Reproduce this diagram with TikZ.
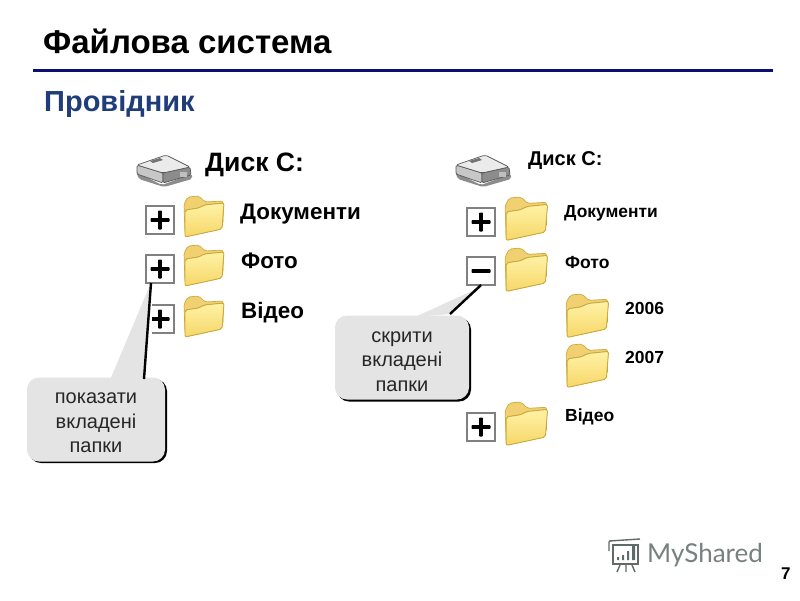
\documentclass[tikz,border=0pt]{standalone}
\usepackage{fontspec}
\setmainfont{Liberation Sans}
\newfontfamily\logofont{Lato}
\definecolor{navy}{HTML}{0B0F70}
\definecolor{subt}{HTML}{1F3D7A}
\definecolor{callout}{HTML}{E4E4E4}
\definecolor{fback}{HTML}{F0D070}
\definecolor{ffronta}{HTML}{FFF2A6}
\definecolor{ffrontb}{HTML}{F6D768}
\definecolor{fedge}{HTML}{CDAA3C}
\definecolor{logogray}{HTML}{5F6B68}
\usetikzlibrary{calc}
\tikzset{
  x=1pt,y=-1pt,
  lbl/.style={anchor=west,inner sep=0pt,font=\bfseries,text=black},
  big/.style={lbl,font=\bfseries\fontsize{22.4}{26}\selectfont},
  small/.style={lbl,font=\bfseries\fontsize{17.5}{20}\selectfont},
  toggle/.style={draw=black!50,line width=2.8pt,fill=white,minimum width=28pt,minimum height=28pt,inner sep=0pt,outer sep=0pt},
  bubble/.style={fill=callout,rounded corners=12pt,inner sep=0pt},
  bubbletext/.style={align=center,inner sep=0pt,font=\fontsize{20}{24.3}\selectfont,text=black!85},
  tail/.style={line width=2.4pt,black},
  pics/folder/.style={code={
    \begin{scope}[scale=#1]
    \fill[fback,draw=fedge,line width=.7pt,rounded corners=2pt] (3,38) -- (2,8) -- (6,1) -- (17,0) -- (23,6) -- (41,5) -- (41,28) -- cycle;
    \fill[top color=ffronta,bottom color=ffrontb,draw=fedge,line width=.9pt,rounded corners=2pt] (3,41) -- (3,14) -- (17,12) -- (22,9) -- (42,7) -- (40,33) -- cycle;
    \end{scope}
  }},
  pics/drive/.style={code={
    \fill[black!45,rounded corners=2pt] (0,18) -- (26,31) -- (56,20) -- (56,25) -- (28,33) -- (3,25) -- cycle;
    \fill[black!22,draw=black!65,line width=.7pt,rounded corners=1.5pt] (1,11) -- (1,20) -- (27,29) -- (27,19) -- cycle;
    \fill[black!45,draw=black!65,line width=.7pt,rounded corners=1.5pt] (27,19) -- (54,13) -- (55,21) -- (27,29) -- cycle;
    \fill[black!8,draw=black!65,line width=.7pt,rounded corners=2pt] (1,11) -- (30,1) -- (54,13) -- (27,19) -- cycle;
    \fill[black!55] (14,7) -- (24,4) -- (27,6) -- (17,9) -- cycle;
    \fill[black!25] (44,18) rectangle (51,23);
  }}
}
\newcommand{\pmglyph}[2]{\fill[black,rounded corners=.8pt] ($(#1)+(-9.5,-1.9)$) rectangle ($(#1)+(9.5,1.9)$);
  \ifnum#2=1 \fill[black,rounded corners=.8pt] ($(#1)+(-1.9,-9.5)$) rectangle ($(#1)+(1.9,9.5)$);\fi}
\begin{document}
\begin{tikzpicture}
\useasboundingbox (0,0) rectangle (800,600);
\fill[white] (0,0) rectangle (800,600);
% header
\node[lbl,font=\bfseries\fontsize{33}{38}\selectfont] (title) at (43,41.5) {Файлова система};
\coordinate (ruleL) at (33,70); \coordinate (ruleR) at (773,70);
\draw[navy,line width=3pt] (ruleL) -- (ruleR);
\node[lbl,text=subt,font=\bfseries\fontsize{29}{33}\selectfont] (sub) at (44,104) {Провідник};
% left tree
\pic at (136,154) {drive};
\node[lbl,font=\bfseries\fontsize{26.6}{30}\selectfont] (ldisk) at (205,164.5) {Диск С:};
\pic at (182,196) {folder=1};
\pic at (182,245) {folder=1};
\pic at (182,296) {folder=1};
\node[big] (ldoc) at (240,214) {Документи};
\node[big] (lfoto) at (241,261) {Фото};
\node[big] (lvid) at (241,313) {Відео};
\node[toggle] (lp1) at (160,220) {}; \pmglyph{lp1}{1}
\node[toggle] (lp3) at (160,319) {}; \pmglyph{lp3}{1}
\node[toggle] (lp2) at (160,269) {}; \pmglyph{lp2}{1}
% left callout
\node[bubble,minimum width=138pt,minimum height=84pt,fill=black] at (98,421) {};
\coordinate (ltipa) at (150,285);
\coordinate (ltail) at (144,379);
\fill[white] (152,304) rectangle (146,336);
\fill[callout] (ltipa) -- (110,380) -- (ltail) -- cycle;
\node[bubble,minimum width=138pt,minimum height=84pt] (lcall) at (96,419.5) {};
\node[bubbletext] (ltext) at (96,423) {показати\\вкладені\\папки};
\draw[tail] (lp2.south) ++(-9,0) -- (ltail);
% right tree
\pic at (455,154) {drive};
\node[lbl,font=\bfseries\fontsize{20}{24}\selectfont] (rdisk) at (528,160.5) {Диск С:};
\pic at (503,197) {folder=1.06};
\pic at (503,248) {folder=1.06};
\pic at (564,294) {folder=1.06};
\pic at (564,344) {folder=1.06};
\pic at (503,402) {folder=1.06};
\node[small,font=\bfseries\fontsize{17.4}{20}\selectfont] (rdoc) at (564,213) {Документи};
\node[small] (rfoto) at (565,262.5) {Фото};
\node[small] (r06) at (625,308.5) {2006};
\node[small] (r07) at (625,357.5) {2007};
\node[small] (rvid) at (565,416.5) {Відео};
\node[toggle] (rp1) at (481,222) {}; \pmglyph{rp1}{1}
\node[toggle] (rm) at (481,271) {}; \pmglyph{rm}{0}
\node[toggle] (rp2) at (481,427) {}; \pmglyph{rp2}{1}
% right callout
\node[bubble,minimum width=134pt,minimum height=84pt,fill=black] at (404,359.5) {};
\coordinate (rtail) at (450,314);
\fill[callout] (483,286) -- (415,317) -- (rtail) -- cycle;
\node[bubble,minimum width=134pt,minimum height=84pt] (rcall) at (402,357.5) {};
\node[bubbletext] (rtext) at (402,361.5) {скрити\\вкладені\\папки};
\draw[tail] (rm.south) -- (rtail);
% page number and logo
\node[lbl,font=\bfseries\fontsize{17}{20}\selectfont] (num) at (781,574) {7};
\node[lbl,text=logogray!85,font=\logofont\fontsize{26}{32}\selectfont] (logo) at (647,555) {MyShared};
\begin{scope}[logogray,line width=1.4pt]
\draw[rounded corners=1pt] (609,551) -- (609,541) -- (640,539);
\draw (613,545) rectangle (638,564);
\fill (617,557) rectangle (619,560) (622,555) rectangle (624,560) (627,551) rectangle (629,560) (632,546) rectangle (635,560);
\draw (620,565) -- (617,572) (626,565) -- (626,572) (632,565) -- (635,572);
\end{scope}
\end{tikzpicture}
\end{document}
